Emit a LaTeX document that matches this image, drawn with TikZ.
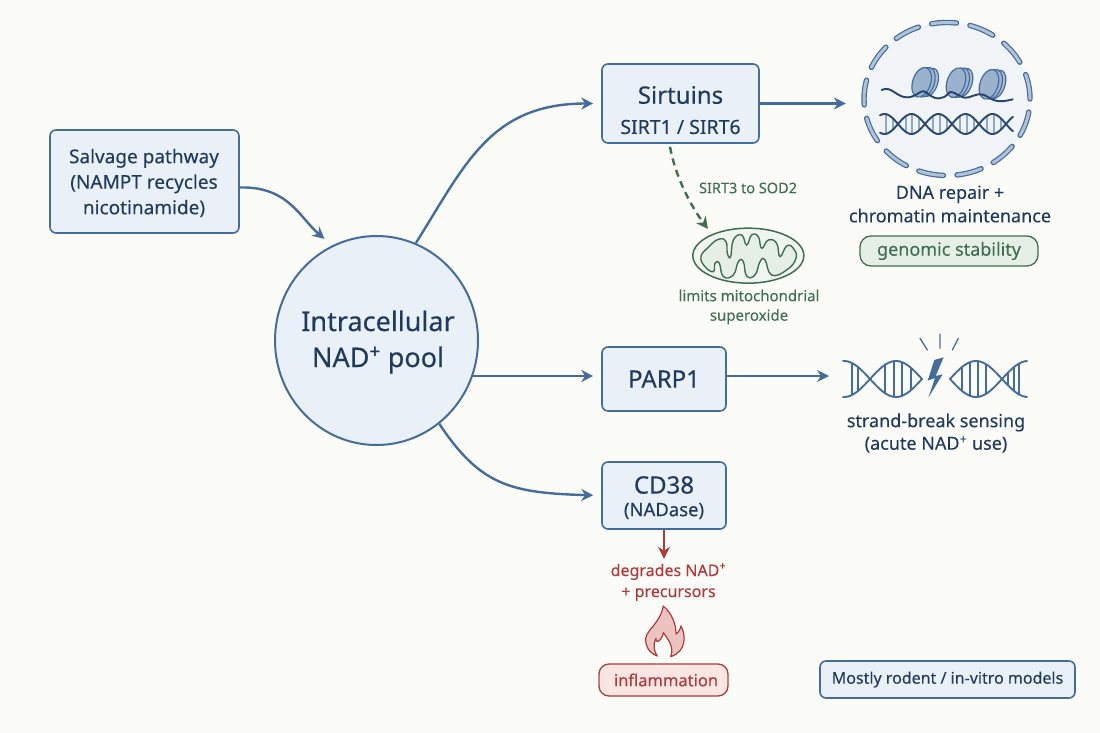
\documentclass[tikz,border=0pt]{standalone}
\usepackage{fontspec}
\setmainfont{Noto Sans}
\newfontfamily\medfont[FakeBold=0.3]{Noto Sans}
\newfontfamily\softfont[FakeBold=0.12]{Noto Sans}
\usetikzlibrary{arrows.meta,calc,shapes.geometric}
\definecolor{paper}{HTML}{FBFBF8}
\definecolor{navy}{HTML}{1F3A5F}
\definecolor{steel}{HTML}{456D9C}
\definecolor{boxfill}{HTML}{EAF0F7}
\definecolor{rung}{HTML}{8FA9C8}
\definecolor{leaf}{HTML}{3F6F50}
\definecolor{leaffill}{HTML}{E6EFE6}
\definecolor{brick}{HTML}{B03A3A}
\definecolor{brickfill}{HTML}{FAE6E3}
\tikzset{
  bluebox/.style={draw=steel,fill=boxfill,line width=1.6pt,rounded corners=6pt,text=navy,align=center,inner sep=0pt},
  flow/.style={draw=steel,line width=2.4pt,-{Stealth[length=12pt,width=12pt]}},
  helix/.style={draw=steel,line width=1.9pt,line cap=round},
  rungline/.style={draw=steel,line width=1.2pt},
  lbl/.style={align=center,inner sep=0pt},
  nucdash/.style={ellipse,minimum width=166pt,minimum height=153pt,inner sep=0pt,line cap=round,dash pattern=on 25pt off 13.6pt},
}
% Two-stranded helix: strands cross at x0 with a half period of 52
\newcommand{\strands}[6]{%
  \draw[#6,domain=#1:#2,samples=60,smooth] plot (\x,{#3-#4*sin((\x-#5)*3.4615)});
  \draw[#6,domain=#1:#2,samples=60,smooth] plot (\x,{#3+#4*sin((\x-#5)*3.4615)});
}
\begin{document}
\begin{tikzpicture}[x=1pt,y=-1pt]
\useasboundingbox (0,0) rectangle (1100,733);
\fill[paper] (0,0) rectangle (1100,733);

% Main boxes
\node[bluebox,minimum width=189pt,minimum height=103pt] (salvage) at (144.5,181.5) {};
\node[lbl,text=navy,font=\fontsize{19}{25.5}\softfont] (salvagetext) at (144,183) {Salvage pathway\\(NAMPT recycles\\nicotinamide)};
\node[ellipse,draw=steel,fill=boxfill,line width=2pt,minimum width=203pt,minimum height=209pt,inner sep=0pt] (pool) at (376.5,340.5) {};
\node[lbl,text=navy,font=\fontsize{27}{36}\medfont] (pooltext) at (378,342) {Intracellular\\NAD\textsuperscript{+} pool};
\node[bluebox,minimum width=157pt,minimum height=79pt] (sirt) at (680.5,103.5) {};
\node[lbl,text=navy,font=\fontsize{24}{30}\medfont] (sirttitle) at (680.5,95) {Sirtuins};
\node[lbl,text=navy,font=\fontsize{19.5}{24}\softfont] (sirtsub) at (680.5,127) {SIRT1 / SIRT6};
\node[bluebox,minimum width=124pt,minimum height=64pt,font=\fontsize{24}{28}\medfont] (parp) at (664,379) {PARP1};
\node[bluebox,minimum width=124pt,minimum height=67pt] (cd) at (664,495.5) {};
\node[lbl,text=navy,font=\fontsize{24}{28}\medfont] (cdtitle) at (664,485) {CD38};
\node[lbl,text=navy,font=\fontsize{18.5}{24}\softfont] (cdsub) at (664,511) {(NADase)};

% Nucleus with chromatin and DNA
\node[nucdash,fill=boxfill!60!paper] (nucleus) at (947,99) {};
\node[nucdash,draw=steel,line width=5.4pt] (nucrimdark) at (947,99) {};
\node[nucdash,draw=rung!70!white,line width=3pt] (nucrimlight) at (947,99) {};
\begin{scope}[shift={(820,20)},x=.3333pt,y=-.3333pt]
  \foreach \cx/\cy in {305/187,408/188,507/193}{
    \draw[steel,fill=rung!75!white,line width=1.2pt,rotate around={-18:(\cx+24,\cy)}] (\cx+24,\cy) ellipse (24 and 44);
    \draw[steel,fill=rung!85!white,line width=1.2pt,rotate around={-18:(\cx+12,\cy)}] (\cx+12,\cy) ellipse (26 and 46);
    \draw[steel,fill=rung!90!white,line width=1.2pt,rotate around={-18:(\cx,\cy)}] (\cx,\cy) ellipse (27 and 46);
  }
  \draw[navy!80!steel,line width=1.9pt,line cap=round] (185,210) .. controls (215,195) and (230,235) .. (265,232)
    .. controls (300,228) and (300,200) .. (325,222) .. controls (345,240) and (370,240) .. (385,220)
    .. controls (400,205) and (420,240) .. (445,232) .. controls (470,225) and (480,215) .. (505,232)
    .. controls (530,248) and (550,245) .. (578,238);
\end{scope}
\foreach \r in {886,893,906,912,919,933,940,947,960,967,974,987,994,1001}
  \draw[rungline,rung] (\r,{124-10*abs(sin((\r-898)*6.667))}) -- (\r,{124+10*abs(sin((\r-898)*6.667))});
\draw[helix,navy!70!steel,domain=880:1013,samples=90,smooth] plot (\x,{124-10*sin((\x-898)*6.667)});
\draw[helix,navy!70!steel,domain=880:1013,samples=90,smooth] plot (\x,{124+10*sin((\x-898)*6.667)});

% Mitochondrion
\begin{scope}[shift={(640,140)},x=.3333pt,y=-.3333pt]
  \node[ellipse,draw=leaf,fill=leaffill!50!paper,line width=1.5pt,minimum width=111pt,minimum height=55pt,inner sep=0pt] (mito) at (325,347) {};
  \draw[leaf,fill=leaffill,line width=1.4pt] plot[smooth cycle,tension=.8] coordinates {
    (183,350) (205,322) (235,298) (258,305) (262,340) (272,350) (280,300) (305,285) (320,315)
    (335,285) (355,290) (365,325) (385,300) (410,310) (420,350) (440,318) (460,325) (468,355)
    (440,390) (395,405) (375,360) (360,365) (345,405) (320,408) (310,365) (295,365) (280,405)
    (250,410) (238,370) (225,370) (220,395) (195,380)};
\end{scope}

% Broken DNA with lightning bolt
\foreach \r in {852,858,885,894,902,911}
  \draw[rungline,steel] (\r,{379-18*abs(sin((\r-870)*3.4615))}) -- (\r,{379+18*abs(sin((\r-870)*3.4615))});
\foreach \r in {962,970,978,986,1008,1014,1019}
  \draw[rungline,steel] (\r,{379-18*abs(sin((\r-950)*3.4615))}) -- (\r,{379+18*abs(sin((\r-950)*3.4615))});
\strands{843}{922}{379}{18}{870}{helix}
\strands{950}{1027}{379}{18}{950}{helix}
\begin{scope}[shift={(820,320)},x=.3333pt,y=-.3333pt]
  \fill[steel] (371,112) -- (343,120) -- (323,182) -- (345,174) -- (325,233) -- (368,163) -- (347,168) -- cycle;
  \draw[steel,line width=1.3pt,line cap=round] (300,55) -- (322,90) (360,43) -- (360,85) (415,55) -- (397,90);
\end{scope}

% Flame
\begin{scope}[shift={(580,520)},x=.3333pt,y=-.3333pt]
  \draw[brick,fill=brickfill!80!brick,line width=1.2pt,line join=round] (250,258)
    .. controls (275,280) and (288,310) .. (288,342) .. controls (298,335) and (302,325) .. (303,318)
    .. controls (318,345) and (320,395) .. (272,410) .. controls (282,385) and (270,365) .. (250,338)
    .. controls (248,352) and (240,362) .. (232,365) .. controls (228,362) and (226,358) .. (228,355)
    .. controls (218,375) and (222,395) .. (232,408) .. controls (205,398) and (195,375) .. (197,355)
    .. controls (200,330) and (240,310) .. (250,258) -- cycle;
\end{scope}

% Connectors
\coordinate (salvageout) at ($(salvage.east)+(0,6)$);
\draw[flow,shorten >=10pt] (salvageout) .. controls (288,186) and (300,218) .. (pool.115);
\draw[flow,shorten >=8pt] (pool.68) .. controls (465,165) and (490,103.5) .. (sirt.west);
\draw[flow,shorten >=18pt] (sirt.east) -- (nucleus.west |- sirt.east);
\coordinate (parpin) at ($(parp.west)+(0,-3)$);
\draw[flow,shorten >=8pt] ($(pool.east |- parpin)+(-6,0)$) -- (parpin);
\coordinate (parpout) at ($(parp.east)+(0,-3)$);
\coordinate (dnain) at (829,376);
\draw[flow] (parpout) -- (dnain);
\draw[flow,shorten >=8pt] (pool.-53) .. controls (480,485) and (510,493) .. (cd.west);
\draw[draw=leaf,line width=2.4pt,dash pattern=on 7pt off 5pt,-{Stealth[length=12pt,width=12pt]}] ($(sirt.south)+(-10.5,3)$) .. controls (675,175) and (690,205) .. (708,229);
\draw[draw=brick,line width=1.9pt,-{Stealth[length=12pt,width=12pt]}] (cd.south) -- ++(0,29);

% Labels
\node[lbl,text=leaf,font=\fontsize{14.5}{18}\softfont] (sodlabel) at (748,188) {SIRT3 to SOD2};
\node[lbl,text=leaf,font=\fontsize{15}{19.5}\softfont] (mitolabel) at (749,307) {limits mitochondrial\\superoxide};
\node[lbl,text=navy,font=\fontsize{18}{23.5}\softfont] (repair) at (950,204) {DNA repair +\\chromatin maintenance};
\node[draw=leaf,fill=leaffill,line width=1.3pt,rounded corners=11pt,minimum width=178pt,minimum height=30pt,inner sep=0pt,text=leaf,font=\fontsize{18}{20}\softfont] (stability) at (949,251) {genomic stability};
\node[lbl,text=navy,font=\fontsize{18}{22.5}\softfont] (sensing) at (936,433) {strand-break sensing\\(acute NAD\textsuperscript{+} use)};
\node[lbl,text=brick,font=\fontsize{16}{21}\softfont] (degrades) at (668.5,582) {degrades NAD\textsuperscript{+}\\+ precursors};
\node[draw=brick,fill=brickfill,line width=1.3pt,rounded corners=10pt,minimum width=129pt,minimum height=32pt,inner sep=0pt] (inflam) at (663.5,680) {};
\node[lbl,text=brick,font=\fontsize{16.5}{20}\softfont] (inflamtext) at (666,680) {inflammation};
\node[bluebox,minimum width=255pt,minimum height=37pt,font=\fontsize{16}{20}\softfont] (models) at (947.5,679.5) {Mostly rodent / in-vitro models};
\end{tikzpicture}
\end{document}
